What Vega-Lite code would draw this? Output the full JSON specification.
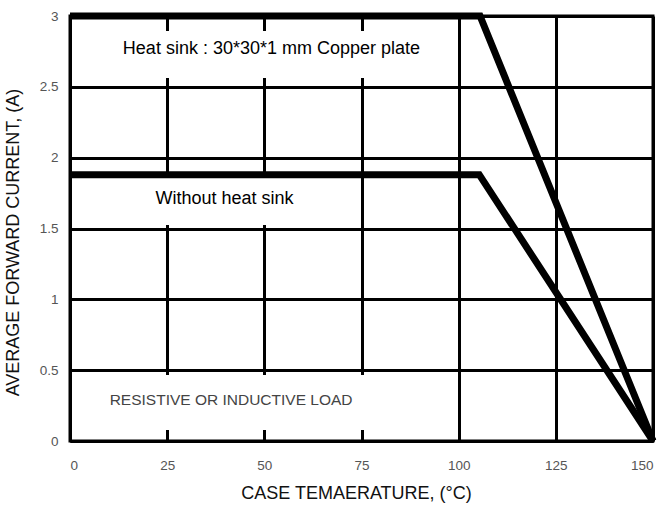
{
  "$schema": "https://vega.github.io/schema/vega-lite/v6.json",
  "autosize": {"type": "none"},
  "width": 583,
  "height": 425,
  "padding": {"left": 70, "top": 16, "right": 13, "bottom": 66},
  "background": "white",
  "config": {
    "view": {"stroke": "black", "strokeWidth": 3},
    "font": "Liberation Sans"
  },
  "datasets": {
    "curves": [
      {"series": "heatsink", "temp": 0, "current": 3},
      {"series": "heatsink", "temp": 105.5, "current": 3},
      {"series": "heatsink", "temp": 150, "current": 0},
      {"series": "noheatsink", "temp": 0, "current": 1.88},
      {"series": "noheatsink", "temp": 105.3, "current": 1.88},
      {"series": "noheatsink", "temp": 150, "current": 0}
    ],
    "boxes": [
      {"x1": 8, "x2": 94, "y1": 2.562, "y2": 2.894},
      {"x1": 18, "x2": 66, "y1": 1.525, "y2": 1.865},
      {"x1": 5, "x2": 90, "y1": 0.078, "y2": 0.466}
    ],
    "labels": [
      {"label": "Heat sink : 30*30*1 mm Copper plate", "temp": 13.6, "current": 2.765, "kind": "main"},
      {"label": "Without heat sink", "temp": 22, "current": 1.71, "kind": "main"},
      {"label": "RESISTIVE OR INDUCTIVE LOAD", "temp": 10.2, "current": 0.29, "kind": "note"}
    ]
  },
  "layer": [
    {
      "data": {"name": "boxes"},
      "mark": {"type": "rect", "color": "white", "opacity": 1},
      "encoding": {
        "x": {
          "field": "x1", "type": "quantitative",
          "scale": {"domain": [0, 150], "nice": false, "zero": false},
          "axis": {
            "values": [0, 25, 50, 75, 100, 125, 150],
            "grid": true, "gridColor": "black", "gridWidth": 3, "gridOpacity": 1,
            "domain": true, "domainColor": "black", "domainWidth": 3,
            "ticks": false, "labelPadding": 17, "labelFontSize": 13.5, "labelColor": "#555",
            "labelFont": "Liberation Sans",
            "title": "CASE TEMAERATURE, (°C)", "titleFontSize": 18, "titleFontWeight": "normal",
            "titleColor": "#111", "titlePadding": 13, "titleFont": "Liberation Sans",
            "titleX": 286, "titleAnchor": null, "titleAlign": "center"
          }
        },
        "x2": {"field": "x2"},
        "y": {
          "field": "y1", "type": "quantitative",
          "scale": {"domain": [0, 3], "nice": false},
          "axis": {
            "values": [0, 0.5, 1, 1.5, 2, 2.5, 3],
            "format": "~g",
            "grid": true, "gridColor": "black", "gridWidth": 3, "gridOpacity": 1,
            "domain": true, "domainColor": "black", "domainWidth": 3,
            "ticks": false, "labelPadding": 12, "labelFontSize": 13.5, "labelColor": "#555",
            "labelFont": "Liberation Sans",
            "title": "AVERAGE FORWARD CURRENT, (A)", "titleFontSize": 18, "titleFontWeight": "normal",
            "titleColor": "#111", "titlePadding": 17, "titleFont": "Liberation Sans",
            "titleY": 226, "titleAlign": "center"
          }
        },
        "y2": {"field": "y2"}
      }
    },
    {
      "data": {"name": "curves"},
      "mark": {"type": "line", "color": "black", "strokeWidth": 7, "strokeJoin": "miter", "clip": false},
      "encoding": {
        "x": {"field": "temp", "type": "quantitative"},
        "y": {"field": "current", "type": "quantitative"},
        "detail": {"field": "series"}
      }
    },
    {
      "data": {"name": "labels"},
      "transform": [{"filter": "datum.kind == 'main'"}],
      "mark": {"type": "text", "align": "left", "baseline": "middle", "fontSize": 18, "color": "black", "font": "Liberation Sans"},
      "encoding": {
        "x": {"field": "temp", "type": "quantitative"},
        "y": {"field": "current", "type": "quantitative"},
        "text": {"field": "label"}
      }
    },
    {
      "data": {"name": "labels"},
      "transform": [{"filter": "datum.kind == 'note'"}],
      "mark": {"type": "text", "align": "left", "baseline": "middle", "fontSize": 15.5, "color": "#444", "font": "Liberation Sans"},
      "encoding": {
        "x": {"field": "temp", "type": "quantitative"},
        "y": {"field": "current", "type": "quantitative"},
        "text": {"field": "label"}
      }
    }
  ]
}
